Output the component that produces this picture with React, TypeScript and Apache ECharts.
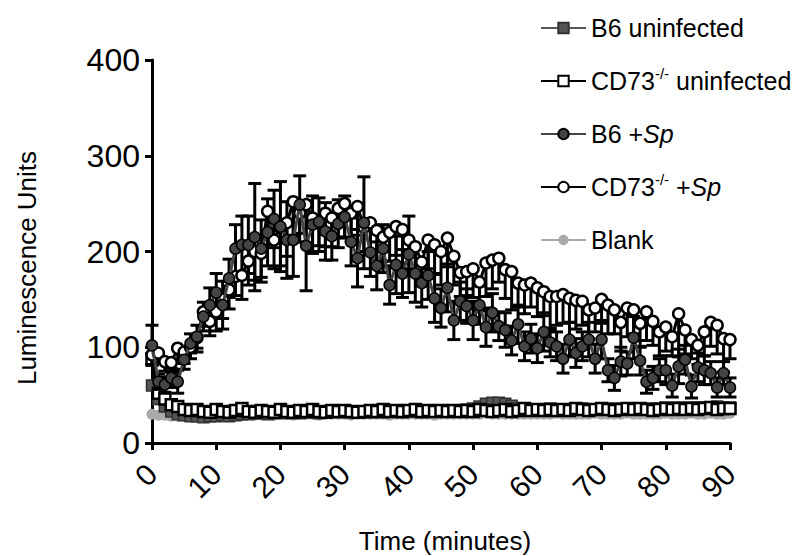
import React, { useEffect, useRef } from 'react';
import * as echarts from 'echarts';

const FONT = 'Liberation Sans, Arial, Helvetica, sans-serif';

const minutes = [
  0, 1, 2, 3, 4, 5, 6, 7, 8, 9, 10, 11, 12, 13, 14, 15, 16, 17, 18, 19,
  20, 21, 22, 23, 24, 25, 26, 27, 28, 29, 30, 31, 32, 33, 34, 35, 36, 37, 38, 39,
  40, 41, 42, 43, 44, 45, 46, 47, 48, 49, 50, 51, 52, 53, 54, 55, 56, 57, 58, 59,
  60, 61, 62, 63, 64, 65, 66, 67, 68, 69, 70, 71, 72, 73, 74, 75, 76, 77, 78, 79,
  80, 81, 82, 83, 84, 85, 86, 87, 88, 89, 90,
];

const xTicks = [0, 10, 20, 30, 40, 50, 60, 70, 80, 90];
const yTicks = [0, 100, 200, 300, 400];

const b6Uninfected = [
  60, 46, 38, 33, 30, 29, 28, 28, 27, 28,
  28, 29, 28, 29, 30, 30, 31, 31, 30, 31,
  32, 31, 32, 31, 32, 32, 31, 32, 32, 33,
  32, 32, 33, 32, 32, 33, 32, 33, 33, 32,
  33, 33, 32, 33, 33, 33, 34, 33, 34, 35,
  36, 38, 41, 42, 42, 41, 39, 36, 34, 34,
  35, 35, 36, 35, 35, 35, 36, 36, 35, 35,
  36, 36, 35, 36, 36, 36, 36, 35, 36, 36,
  37, 36, 37, 36, 37, 37, 37, 37, 38, 37,
  37,
];

const cd73Uninfected = [
  88, 52, 46, 40, 38, 35, 34, 35, 33, 32,
  35, 33, 32, 34, 36, 33, 32, 34, 33, 32,
  35, 33, 32, 34, 33, 35, 33, 32, 34, 33,
  34, 33, 32, 33, 34, 33, 35, 33, 34, 33,
  34, 35, 33, 34, 33, 34, 33, 34, 33, 34,
  33, 35, 34, 33, 34, 35, 33, 34, 36, 34,
  35, 34, 35, 34, 35, 34, 36, 35, 34, 35,
  36, 35, 34, 35, 36, 35, 36, 35, 34, 35,
  36, 35, 36, 35, 36, 35, 36, 37, 35, 36,
  36,
];

const b6Sp = [
  102, 64, 61, 68, 64, 87, 104, 111, 132, 144,
  157, 144, 172, 203, 207, 207, 215, 203, 220, 234,
  226, 212, 212, 249, 206, 228, 231, 221, 216, 229,
  236, 210, 193, 230, 199, 185, 203, 165, 186, 177,
  197, 177, 167, 175, 151, 141, 162, 128, 148, 143,
  128, 144, 121, 136, 122, 118, 107, 124, 101, 109,
  99, 116, 105, 101, 88, 108, 94, 101, 108, 88,
  108, 76, 68, 85, 83, 110, 86, 64, 68, 76,
  76, 60, 80, 87, 59, 79, 76, 73, 58, 73,
  58,
];

const b6SpErr = [
  21, 8, 8, 10, 12, 10, 10, 12, 15, 18,
  20, 25, 20, 25, 30, 30, 56, 30, 35, 30,
  47, 40, 38, 30, 47, 30, 25, 30, 25, 25,
  22, 25, 30, 48, 25, 25, 25, 20, 30, 25,
  40, 30, 25, 25, 25, 20, 25, 20, 20, 18,
  20, 20, 20, 20, 15, 18, 15, 20, 15, 15,
  15, 20, 15, 15, 15, 18, 15, 15, 18, 15,
  20, 12, 13, 15, 12, 22, 15, 12, 12, 12,
  15, 12, 18, 15, 12, 15, 15, 12, 10, 12,
  10,
];

const cd73Sp = [
  92, 94, 85, 84, 99, 95, 100, 110, 137, 127,
  137, 150, 160, 174, 175, 190, 200, 198, 242, 212,
  225, 230, 252, 240, 249, 235, 230, 240, 235, 245,
  250, 240, 247, 225, 230, 222, 215, 220, 226, 223,
  212, 205, 189, 212, 207, 200, 214, 195, 178, 179,
  182, 168, 188, 191, 193, 181, 179, 167, 165, 167,
  162, 158, 153, 153, 155, 151, 149, 148, 139, 141,
  150, 144, 139, 126, 141, 139, 125, 137, 127, 116,
  121, 111, 135, 118, 108, 102, 116, 126, 123, 109,
  108,
];

const cd73SpErr = [
  10, 10, 10, 10, 12, 12, 12, 15, 15, 15,
  20, 20, 20, 20, 25, 25, 30, 30, 35, 30,
  40, 35, 35, 30, 40, 35, 30, 35, 30, 30,
  35, 30, 30, 25, 30, 30, 25, 30, 30, 35,
  30, 30, 25, 30, 30, 35, 30, 30, 25, 25,
  30, 30, 35, 30, 25, 30, 40, 25, 30, 25,
  30, 25, 35, 30, 30, 25, 30, 25, 30, 25,
  25, 30, 25, 30, 30, 25, 25, 30, 25, 25,
  25, 20, 45, 25, 20, 20, 25, 25, 30, 35,
  20,
];

const blank = [
  30, 29, 29, 28, 28, 28, 29, 28, 28, 29,
  29, 29, 30, 29, 29, 30, 29, 30, 30, 29,
  30, 30, 29, 30, 30, 30, 29, 30, 30, 30,
  30, 29, 30, 30, 30, 30, 30, 29, 30, 30,
  30, 30, 30, 30, 29, 30, 30, 30, 30, 30,
  30, 30, 31, 30, 30, 30, 30, 30, 30, 30,
  30, 30, 30, 31, 30, 30, 30, 30, 30, 31,
  30, 30, 30, 30, 31, 30, 30, 30, 30, 30,
  31, 30, 30, 30, 31, 30, 30, 31, 30, 30,
  31,
];

const seriesNames = ['B6 uninfected', 'CD73-/- uninfected', 'B6 +Sp', 'CD73-/- +Sp', 'Blank'];
const legendRich: Record<string, string> = {
  'B6 uninfected': '{n|B6 uninfected}',
  'CD73-/- uninfected': '{n|CD73}{s|-/-}{n| uninfected}',
  'B6 +Sp': '{n|B6 +}{i|Sp}',
  'CD73-/- +Sp': '{n|CD73}{s|-/-}{n| +}{i|Sp}',
  'Blank': '{n|Blank}',
};

function lineSeries(name: string, values: number[], symbol: string, fill: string, border: string, borderWidth: number, lineColor: string, z: number) {
  return {
    name,
    type: 'line',
    data: minutes.map((m, i) => [m, values[i]]),
    symbol,
    symbolSize: 11,
    showSymbol: true,
    showAllSymbol: true,
    clip: false,
    z,
    itemStyle: { color: fill, borderColor: border, borderWidth },
    lineStyle: { color: lineColor, width: 3 },
    emphasis: { disabled: true },
  };
}

function errorSeries(values: number[], errs: number[], upper: boolean, z: number) {
  return {
    type: 'custom',
    z,
    clip: false,
    silent: true,
    data: minutes.map((m, i) => [m, values[i] - errs[i], upper ? values[i] + errs[i] : values[i]]),
    encode: { x: 0, y: [1, 2] },
    renderItem: (params: any, api: any) => {
      const x = api.value(0);
      const lo = api.value(1);
      const hi = api.value(2);
      const pTop = api.coord([x, hi]);
      const pBot = api.coord([x, lo]);
      const hw = 6.5;
      const st = { stroke: '#000', lineWidth: 3 };
      const children: any[] = [
        { type: 'line', shape: { x1: pTop[0], y1: pTop[1], x2: pBot[0], y2: pBot[1] }, style: st },
        { type: 'line', shape: { x1: pBot[0] - hw, y1: pBot[1], x2: pBot[0] + hw, y2: pBot[1] }, style: st },
      ];
      if (upper) {
        children.push({ type: 'line', shape: { x1: pTop[0] - hw, y1: pTop[1], x2: pTop[0] + hw, y2: pTop[1] }, style: st });
      }
      return { type: 'group', children };
    },
  };
}

export default function App() {
  const ref = useRef<HTMLDivElement>(null);
  useEffect(() => {
    if (!ref.current) return;
    const chart = echarts.init(ref.current, undefined, { renderer: 'svg' });
    const axisCommon = {
      axisLine: { show: true, lineStyle: { color: '#000', width: 3 } },
      axisTick: { show: true, inside: false, length: 7, lineStyle: { color: '#000', width: 3 } },
      splitLine: { show: false },
    };
    const option: any = {
      animation: false,
      backgroundColor: '#ffffff',
      textStyle: { fontFamily: FONT },
      grid: { left: 152, right: 74, top: 60, bottom: 113, containLabel: false },
      xAxis: {
        type: 'value',
        min: xTicks[0],
        max: xTicks[xTicks.length - 1],
        interval: 10,
        ...axisCommon,
        axisLabel: { rotate: 45, fontSize: 30, color: '#000', fontFamily: FONT, margin: 26 },
      },
      yAxis: {
        type: 'value',
        min: yTicks[0],
        max: yTicks[yTicks.length - 1],
        interval: 100,
        ...axisCommon,
        axisLabel: { fontSize: 32, color: '#000', fontFamily: FONT, margin: 12 },
      },
      legend: {
        data: seriesNames,
        orient: 'vertical',
        left: 535,
        top: 8,
        itemWidth: 45,
        itemHeight: 13,
        itemGap: 23,
        selectedMode: false,
        formatter: (name: string) => legendRich[name],
        textStyle: {
          fontFamily: FONT,
          color: '#000',
          fontSize: 25,
          lineHeight: 30,
          rich: {
            n: { fontFamily: FONT, fontSize: 25, color: '#000', lineHeight: 30 },
            i: { fontFamily: FONT, fontSize: 25, color: '#000', fontStyle: 'italic', lineHeight: 30 },
            s: { fontFamily: FONT, fontSize: 15, color: '#000', lineHeight: 15, verticalAlign: 'top' },
          },
        },
      },
      graphic: [
        {
          type: 'text',
          x: 27,
          y: 268,
          rotation: Math.PI / 2,
          style: {
            text: 'Luminescence Units',
            fontSize: 26,
            fontFamily: FONT,
            fill: '#000',
            align: 'center',
            verticalAlign: 'middle',
            textAlign: 'center',
            textVerticalAlign: 'middle',
          },
        },
        {
          type: 'text',
          x: 445,
          y: 541,
          style: {
            text: 'Time (minutes)',
            fontSize: 26,
            fontFamily: FONT,
            fill: '#000',
            align: 'center',
            verticalAlign: 'middle',
            textAlign: 'center',
            textVerticalAlign: 'middle',
          },
        },
      ],
      series: [
        lineSeries(seriesNames[4], blank, 'circle', '#aaaaaa', '#aaaaaa', 0, '#aaaaaa', 2),
        lineSeries(seriesNames[0], b6Uninfected, 'rect', '#555555', '#333333', 1.5, '#555555', 3),
        lineSeries(seriesNames[1], cd73Uninfected, 'rect', '#ffffff', '#000000', 2.5, '#000000', 4),
        errorSeries(cd73Sp, cd73SpErr, false, 5),
        errorSeries(b6Sp, b6SpErr, true, 5),
        lineSeries(seriesNames[3], cd73Sp, 'circle', '#ffffff', '#000000', 2.5, '#000000', 6),
        lineSeries(seriesNames[2], b6Sp, 'circle', '#444444', '#000000', 1.5, '#444444', 7),
      ],
    };
    chart.setOption(option);
    return () => chart.dispose();
  }, []);
  return <div ref={ref} style={{ position: 'fixed', left: 0, top: 0, width: 804, height: 556, background: '#fff' }} />;
}
